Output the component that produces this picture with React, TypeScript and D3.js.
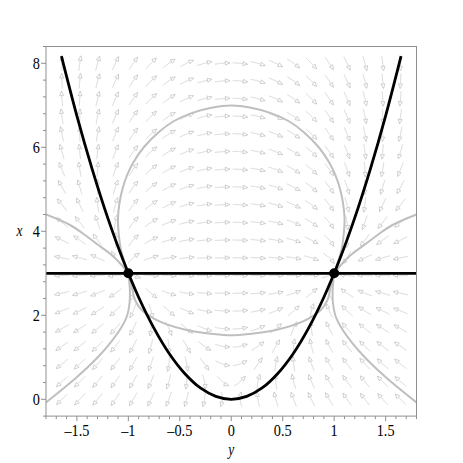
import React from 'react';
import * as d3 from 'd3';

// ---------- data ----------
const hDomain = [-1.8, 1.8]; // horizontal variable y
const vDomain = [-0.4, 8.4]; // vertical variable x

const bottomTicks = [-1.5, -1, -0.5, 0, 0.5, 1, 1.5];
const bottomTickLabels = ['–1.5', '–1', '–0.5', '0', '0.5', '1', '1.5'];
const leftTicks = [0, 2, 4, 6, 8];
const leftTickLabels = ['0', '2', '4', '6', '8'];

const parabolaY = [-1.65, -1.5, -1.35, -1.2, -1.05, -0.9, -0.75, -0.6, -0.45, -0.3, -0.15, 0, 0.15, 0.3, 0.45, 0.6, 0.75, 0.9, 1.05, 1.2, 1.35, 1.5, 1.65];
const parabolaX = [8.17, 6.75, 5.47, 4.32, 3.31, 2.43, 1.69, 1.08, 0.61, 0.27, 0.07, 0, 0.07, 0.27, 0.61, 1.08, 1.69, 2.43, 3.31, 4.32, 5.47, 6.75, 8.17];

const equilibriaY = [-1, 1];
const equilibriaX = [3, 3];
const lineX = 3;

const upperArcY = [-1, -1.037, -1.071, -1.093, -1.101, -1.086, -1.057, -1.013, -0.952, -0.848, -0.708, -0.556, -0.378, -0.192, 0, 0.192, 0.378, 0.556, 0.708, 0.848, 0.952, 1.013, 1.057, 1.086, 1.101, 1.093, 1.071, 1.037, 1];
const upperArcX = [3, 3.269, 3.555, 3.936, 4.293, 4.674, 5.007, 5.329, 5.638, 6.007, 6.355, 6.626, 6.821, 6.943, 6.995, 6.943, 6.821, 6.626, 6.355, 6.007, 5.638, 5.329, 5.007, 4.674, 4.293, 3.936, 3.555, 3.269, 3];

const lowerArcY = [-1, -0.967, -0.935, -0.87, -0.692, -0.433, -0.174, 0, 0.174, 0.433, 0.692, 0.87, 0.935, 0.967, 1];
const lowerArcX = [3, 2.681, 2.364, 2.126, 1.848, 1.65, 1.555, 1.524, 1.555, 1.65, 1.848, 2.126, 2.364, 2.681, 3];

const leftUpperY = [-1.8, -1.567, -1.421, -1.292, -1.162, -1.065, -1];
const leftUpperX = [4.4, 4.15, 3.912, 3.674, 3.436, 3.198, 3];
const leftLowerY = [-1, -0.986, -0.988, -1.013, -1.071, -1.169, -1.295, -1.499, -1.8];
const leftLowerX = [3, 2.65, 2.293, 1.983, 1.698, 1.364, 1.007, 0.531, -0.075];
const rightUpperY = [1, 1.065, 1.162, 1.292, 1.421, 1.567, 1.8];
const rightUpperX = [3, 3.198, 3.436, 3.674, 3.912, 4.15, 4.4];
const rightLowerY = [1, 0.986, 0.988, 1.013, 1.071, 1.169, 1.295, 1.499, 1.8];
const rightLowerX = [3, 2.65, 2.293, 1.983, 1.698, 1.364, 1.007, 0.531, -0.075];

// direction field: dy/dt = x - 3y^2, dx/dt = K*y*(3 - x), arrows on a 20x20 grid
const fieldParabolaCoef = 3;
const fieldK = 4;
const fieldLevel = 3;
const arrowColsRange = [-1.645, 1.645];
const arrowRowsRange = [0, 8];
const arrowCount = 20;

// ---------- layout ----------
const W = 463, H = 463;
const plotLeft = 46, plotRight = 416.5, plotTop = 46.5, plotBottom = 416.1;

function field(y: number, x: number): [number, number] {
  return [x - fieldParabolaCoef * y * y, fieldK * y * (fieldLevel - x)];
}

function Label({ x, y, text, anchor, italic, size = 17 }: { x: number; y: number; text: string; anchor: 'start' | 'middle' | 'end'; italic?: boolean; size?: number }) {
  return (
    <g transform={`translate(${x},${y}) scale(0.84,1)`}>
      <text x={0} y={0} textAnchor={anchor} fontFamily='"Liberation Serif", "Times New Roman", serif' fontSize={size} fontStyle={italic ? 'italic' : 'normal'} fill="#000">{text}</text>
    </g>
  );
}

export default function App() {
  const sx = d3.scaleLinear().domain(hDomain).range([plotLeft, plotRight]);
  const sy = d3.scaleLinear().domain(vDomain).range([plotBottom, plotTop]);
  const kx = sx(1) - sx(0);
  const ky = sy(0) - sy(1);

  const dirAt = (px: number, py: number, sgn: number): [number, number] | null => {
    const [a, b] = field(sx.invert(px), sy.invert(py));
    const vx = a * kx, vy = -b * ky;
    const n = Math.hypot(vx, vy);
    if (n < 1e-9) return null;
    return [sgn * vx / n, sgn * vy / n];
  };

  const trace = (y0: number, x0: number, sgn: number, len: number, h = 0.5) => {
    let px = sx(y0), py = sy(x0);
    const pts: [number, number][] = [[px, py]];
    let s = 0;
    while (s < len - 1e-9) {
      const d1 = dirAt(px, py, sgn);
      if (!d1) break;
      const d2 = dirAt(px + d1[0] * h / 2, py + d1[1] * h / 2, sgn);
      if (!d2) break;
      px += d2[0] * h; py += d2[1] * h; s += h;
      pts.push([px, py]);
    }
    return pts;
  };

  const colVals = d3.range(arrowCount).map(i => arrowColsRange[0] + (arrowColsRange[1] - arrowColsRange[0]) * i / (arrowCount - 1));
  const rowVals = d3.range(arrowCount).map(i => arrowRowsRange[0] + (arrowRowsRange[1] - arrowRowsRange[0]) * i / (arrowCount - 1));

  const arrowLen = 15;
  const arrows: { d: string; head: string }[] = [];
  for (const yv of colVals) {
    for (const xv of rowVals) {
      const fwd = trace(yv, xv, 1, arrowLen / 2);
      const bwd = trace(yv, xv, -1, arrowLen / 2);
      const pts = [...bwd.reverse(), ...fwd.slice(1)];
      if (pts.length < 3) continue;
      const tip = pts[pts.length - 1];
      const prev = pts[Math.max(0, pts.length - 5)];
      let ux = tip[0] - prev[0], uy = tip[1] - prev[1];
      const n = Math.hypot(ux, uy) || 1; ux /= n; uy /= n;
      const hl = 4.5, hw = 2;
      const bx = tip[0] - ux * hl, by = tip[1] - uy * hl;
      const head = `M${tip[0]},${tip[1]}L${bx - uy * hw},${by + ux * hw}L${bx + uy * hw},${by - ux * hw}Z`;
      arrows.push({ d: d3.line()(pts) || '', head });
    }
  }

  const curve = (ys: number[], xs: number[]) =>
    d3.line<number>().x(i => sx(ys[i])).y(i => sy(xs[i])).curve(d3.curveCatmullRom.alpha(0.5))(d3.range(ys.length)) || '';

  const grayCurves = [
    curve(upperArcY, upperArcX), curve(lowerArcY, lowerArcX),
    curve(leftUpperY, leftUpperX), curve(leftLowerY, leftLowerX),
    curve(rightUpperY, rightUpperX), curve(rightLowerY, rightLowerX),
  ];

  const minorLeft = d3.range(-1, 22).map(i => i * 0.4).filter(v => v <= 8.41 && Math.abs(v / 2 - Math.round(v / 2)) > 0.01);
  const minorBottom = d3.range(-18, 19).map(v => v / 10).filter(v => Math.abs(v * 2 - Math.round(v * 2)) > 0.01);

  const axisColor = '#8f8f8f';

  return (
    <svg width={W} height={H} style={{ position: 'absolute', left: 0, top: 0, background: '#fff' }}>
      <defs>
        <clipPath id="plotclip">
          <rect x={plotLeft} y={plotTop} width={plotRight - plotLeft} height={plotBottom - plotTop} />
        </clipPath>
      </defs>
      <g clipPath="url(#plotclip)">
        {arrows.map((a, i) => (
          <g key={i}>
            <path d={a.d} fill="none" stroke="#cbcbcb" strokeWidth={0.8} />
            <path d={a.head} fill="#fff" stroke="#c4c4c4" strokeWidth={0.8} />
          </g>
        ))}
        {grayCurves.map((d, i) => (
          <path key={i} d={d} fill="none" stroke="#bfbfbf" strokeWidth={2} />
        ))}
        <path d={curve(parabolaY, parabolaX)} fill="none" stroke="#000" strokeWidth={2.8} />
        <line x1={plotLeft} x2={plotRight} y1={sy(lineX)} y2={sy(lineX)} stroke="#000" strokeWidth={2.8} />
        {equilibriaY.map((yv, i) => (
          <circle key={i} cx={sx(yv)} cy={sy(equilibriaX[i])} r={5} fill="#000" />
        ))}
      </g>
      <rect x={plotLeft} y={plotTop} width={plotRight - plotLeft} height={plotBottom - plotTop} fill="none" stroke={axisColor} strokeWidth={1} />
      {leftTicks.map(v => (
        <line key={'lt' + v} x1={plotLeft - 5} x2={plotLeft} y1={sy(v)} y2={sy(v)} stroke={axisColor} />
      ))}
      {minorLeft.map(v => (
        <line key={'lm' + v} x1={plotLeft - 3} x2={plotLeft} y1={sy(v)} y2={sy(v)} stroke={axisColor} />
      ))}
      {bottomTicks.map(v => (
        <line key={'bt' + v} x1={sx(v)} x2={sx(v)} y1={plotBottom} y2={plotBottom + 5} stroke={axisColor} />
      ))}
      {minorBottom.map(v => (
        <line key={'bm' + v} x1={sx(v)} x2={sx(v)} y1={plotBottom} y2={plotBottom + 3} stroke={axisColor} />
      ))}
      {leftTicks.map((v, i) => (
        <Label key={'ll' + v} x={plotLeft - 6} y={sy(v) + 6} text={leftTickLabels[i]} anchor="end" />
      ))}
      {bottomTicks.map((v, i) => (
        <Label key={'bl' + v} x={sx(v)} y={436} text={bottomTickLabels[i]} anchor="middle" />
      ))}
      <Label x={19.5} y={235.5} text="x" anchor="middle" italic size={16} />
      <Label x={sx(0)} y={455} text="y" anchor="middle" italic size={16} />
    </svg>
  );
}
